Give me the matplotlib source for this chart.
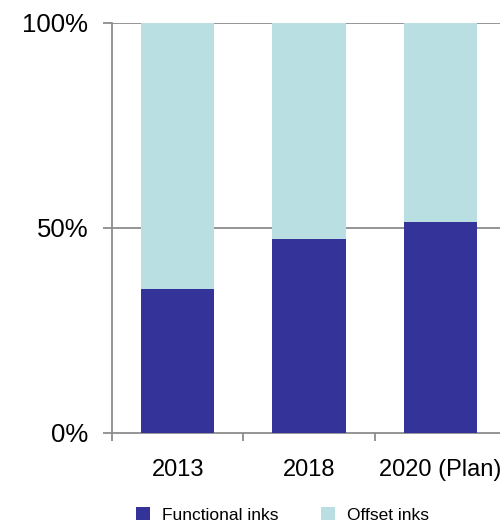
import matplotlib
matplotlib.use("Agg")
import matplotlib.pyplot as plt
from matplotlib.patches import Patch
from matplotlib.ticker import FixedLocator, FuncFormatter

plt.rcParams['font.family'] = ['Liberation Sans', 'DejaVu Sans']

categories = ["2013", "2018", "2020 (Plan)"]
functional = [35.0, 47.2, 51.4]
offset = [65.0, 52.8, 48.6]
series_names = ["Functional inks", "Offset inks"]
yticks = [0, 50, 100]

dark = "#333399"
light = "#BADFE3"
gray = "#8C8C8C"

fig = plt.figure(figsize=(5.0, 5.22), dpi=100)
ax = fig.add_axes([112/500, 89.5/522, 394/500, 409.5/522])

x = list(range(len(categories)))
w = 0.558
ax.bar(x, functional, width=w, color=dark, zorder=3)
ax.bar(x, offset, width=w, bottom=functional, color=light, zorder=3)

ax.set_xlim(-0.5, len(categories) - 0.5)
ax.set_ylim(0, 100)

ax.yaxis.set_major_locator(FixedLocator(yticks))
ax.yaxis.set_major_formatter(FuncFormatter(lambda v, p: f"{int(v)}%"))
for v in yticks[1:]:
    ax.axhline(v, color=gray, lw=1.3, zorder=1)

ax.set_xticks(x)
ax.set_xticklabels(categories)
ax.set_xticks([i - 0.5 for i in range(len(categories) + 1)], minor=True)
ax.tick_params(axis='x', which='major', length=0, pad=19, labelsize=17)
ax.tick_params(axis='x', which='minor', length=6, width=1.3, color=gray, direction='out')
ax.tick_params(axis='y', length=6.5, width=1.3, color=gray, direction='out', pad=10.5, labelsize=18.5)

for s in ['top', 'right']:
    ax.spines[s].set_visible(False)
for s in ['left', 'bottom']:
    ax.spines[s].set_color(gray)
    ax.spines[s].set_linewidth(1.3)

handles = [Patch(facecolor=dark), Patch(facecolor=light)]
fig.legend(handles, series_names, loc='center', bbox_to_anchor=(282.5/500, 7/522),
           ncol=2, frameon=False, fontsize=12.5, handlelength=0.8, handleheight=0.8,
           handletextpad=0.69, columnspacing=2.45, borderpad=0, borderaxespad=0)

fig.savefig("out.png", dpi=100)
